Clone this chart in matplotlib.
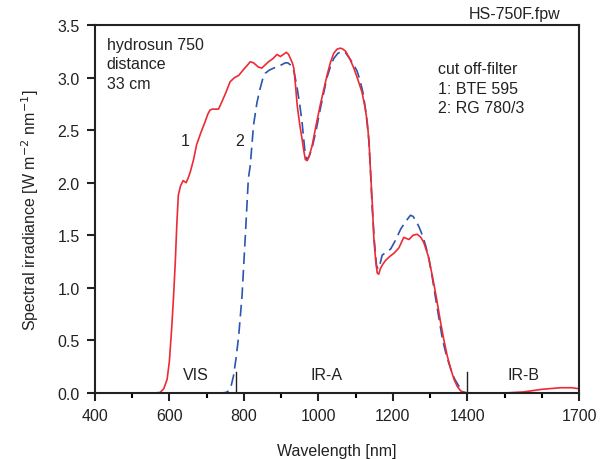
import matplotlib
matplotlib.use("Agg")
import matplotlib.pyplot as plt
from matplotlib.ticker import MultipleLocator, FixedLocator, FormatStrFormatter

plt.rcParams['font.family'] = ['Liberation Sans', 'DejaVu Sans']

# filter 1: BTE 595
wl_1 = [400, 500, 560, 575, 585, 594, 600, 606, 611, 616, 620, 624, 630, 637, 645, 650, 656,
        665, 673, 685, 696, 703, 709, 715, 720, 732, 741, 752, 763, 775, 786, 800, 810, 817,
        826, 839, 848, 857, 866, 878, 889, 898, 906, 914, 920, 925, 930, 934, 938, 943, 950,
        956, 961, 965, 970, 975, 983, 994, 1005, 1014, 1023, 1032, 1041, 1050, 1059, 1066,
        1073, 1084, 1095, 1106, 1117, 1125, 1131, 1136, 1140, 1145, 1149, 1154, 1158, 1162,
        1166, 1172, 1180, 1192, 1203, 1216, 1229, 1236, 1243, 1254, 1265, 1275, 1283, 1295,
        1306, 1317, 1328, 1337, 1346, 1355, 1364, 1373, 1382, 1392, 1400, 1450, 1500, 1550,
        1600, 1650, 1680, 1700]
irr_1 = [0.0, 0.0, 0.0, 0.005, 0.04, 0.13, 0.3, 0.6, 0.9, 1.25, 1.6, 1.88, 1.97, 2.02, 2.0,
         2.04, 2.1, 2.22, 2.36, 2.48, 2.58, 2.65, 2.69, 2.7, 2.7, 2.7, 2.77, 2.86, 2.96, 3.0,
         3.02, 3.08, 3.12, 3.15, 3.14, 3.1, 3.09, 3.12, 3.15, 3.18, 3.22, 3.2, 3.22, 3.24,
         3.22, 3.18, 3.14, 3.09, 2.95, 2.74, 2.55, 2.42, 2.3, 2.22, 2.21, 2.25, 2.35, 2.55,
         2.74, 2.88, 3.02, 3.14, 3.23, 3.27, 3.28, 3.27, 3.25, 3.18, 3.09, 2.98, 2.86, 2.72,
         2.58, 2.38, 2.1, 1.78, 1.46, 1.25, 1.14, 1.13, 1.18, 1.22, 1.26, 1.3, 1.33, 1.38,
         1.48, 1.47, 1.46, 1.5, 1.51, 1.48, 1.43, 1.3, 1.11, 0.9, 0.67, 0.5, 0.35, 0.23,
         0.13, 0.06, 0.02, 0.003, 0.0, 0.0, 0.0, 0.01, 0.035, 0.05, 0.05, 0.04]

# filter 2: RG 780/3
wl_2 = [400, 600, 740, 752, 759, 766, 772, 779, 786, 795, 804, 812, 817, 826, 835, 844, 850,
        857, 868, 880, 895, 911, 918, 925, 930, 935, 943, 950, 956, 961, 965, 970, 975, 983,
        994, 1005, 1014, 1023, 1032, 1041, 1052, 1064, 1072, 1080, 1092, 1104, 1112, 1120,
        1128, 1135, 1140, 1144, 1150, 1156, 1160, 1165, 1171, 1182, 1194, 1208, 1221, 1234,
        1247, 1254, 1261, 1270, 1279, 1288, 1297, 1306, 1315, 1324, 1333, 1344, 1355, 1366,
        1378, 1389, 1400, 1700]
irr_2 = [0.0, 0.0, 0.0, 0.005, 0.02, 0.07, 0.16, 0.33, 0.54, 0.92, 1.5, 2.04, 2.16, 2.55,
         2.76, 2.9, 2.98, 3.04, 3.07, 3.09, 3.11, 3.14, 3.14, 3.12, 3.1, 3.05, 2.9, 2.74, 2.58,
         2.4, 2.26, 2.22, 2.25, 2.33, 2.5, 2.7, 2.85, 3.0, 3.1, 3.18, 3.23, 3.25, 3.24, 3.2,
         3.14, 3.06, 2.97, 2.85, 2.66, 2.42, 2.1, 1.78, 1.45, 1.21, 1.18, 1.22, 1.31, 1.34,
         1.37, 1.46, 1.56, 1.63, 1.69, 1.68, 1.64, 1.58, 1.5, 1.4, 1.27, 1.09, 0.89, 0.7,
         0.51, 0.35, 0.23, 0.13, 0.06, 0.01, 0.0, 0.0]

band_edges = [780, 1400]
band_names = ['VIS', 'IR-A', 'IR-B']
band_pos = [671, 1023, 1551]

fs = 11.5
fig = plt.figure(figsize=(6.04, 4.6), dpi=100)
ax = fig.add_axes([0.157, 0.1435, 0.802, 0.8])

ax.plot(wl_2, irr_2, color='#2a55b0', lw=1.2, dashes=(7, 3.5))
ax.plot(wl_1, irr_1, color='#ee2a33', lw=1.2)

for x in band_edges:
    ax.plot([x, x], [0, 0.2], color='#222222', lw=1)
for name, x in zip(band_names, band_pos):
    ax.text(x, 0.18, name, ha='center', va='center', fontsize=fs, color='#222222')

ax.text(642, 2.4, '1', ha='center', va='center', fontsize=fs, color='#222222')
ax.text(788, 2.4, '2', ha='center', va='center', fontsize=fs, color='#222222')

ax.text(432, 3.39, 'hydrosun 750\ndistance\n33 cm', ha='left', va='top', fontsize=fs,
        color='#222222', linespacing=1.4)
ax.text(1320, 3.16, 'cut off-filter\n1: BTE 595\n2: RG 780/3', ha='left', va='top',
        fontsize=fs, color='#222222', linespacing=1.4)
fig.text(0.928, 0.968, 'HS-750F.fpw', ha='right', va='center', fontsize=fs, color='#222222')

ax.set_xlim(400, 1700)
ax.set_ylim(0, 3.5)
ax.xaxis.set_major_locator(FixedLocator([400, 600, 800, 1000, 1200, 1400, 1700]))
ax.xaxis.set_minor_locator(FixedLocator([500, 700, 900, 1100, 1300, 1500, 1600]))
ax.yaxis.set_major_locator(MultipleLocator(0.5))
ax.yaxis.set_major_formatter(FormatStrFormatter('%.1f'))
ax.tick_params(which='major', direction='out', length=6, width=1.5, labelsize=fs,
               colors='#222222', pad=5)
ax.tick_params(which='minor', direction='out', length=3.5, width=1.5)
for s in ax.spines.values():
    s.set_linewidth(1.5)
    s.set_color('#222222')

ax.set_xlabel('Wavelength [nm]', fontsize=fs, color='#222222', labelpad=14)
ax.set_ylabel('Spectral irradiance [W m$^{-2}$ nm$^{-1}$]', fontsize=fs, color='#222222',
              labelpad=12)

fig.savefig('out.png', dpi=100)
